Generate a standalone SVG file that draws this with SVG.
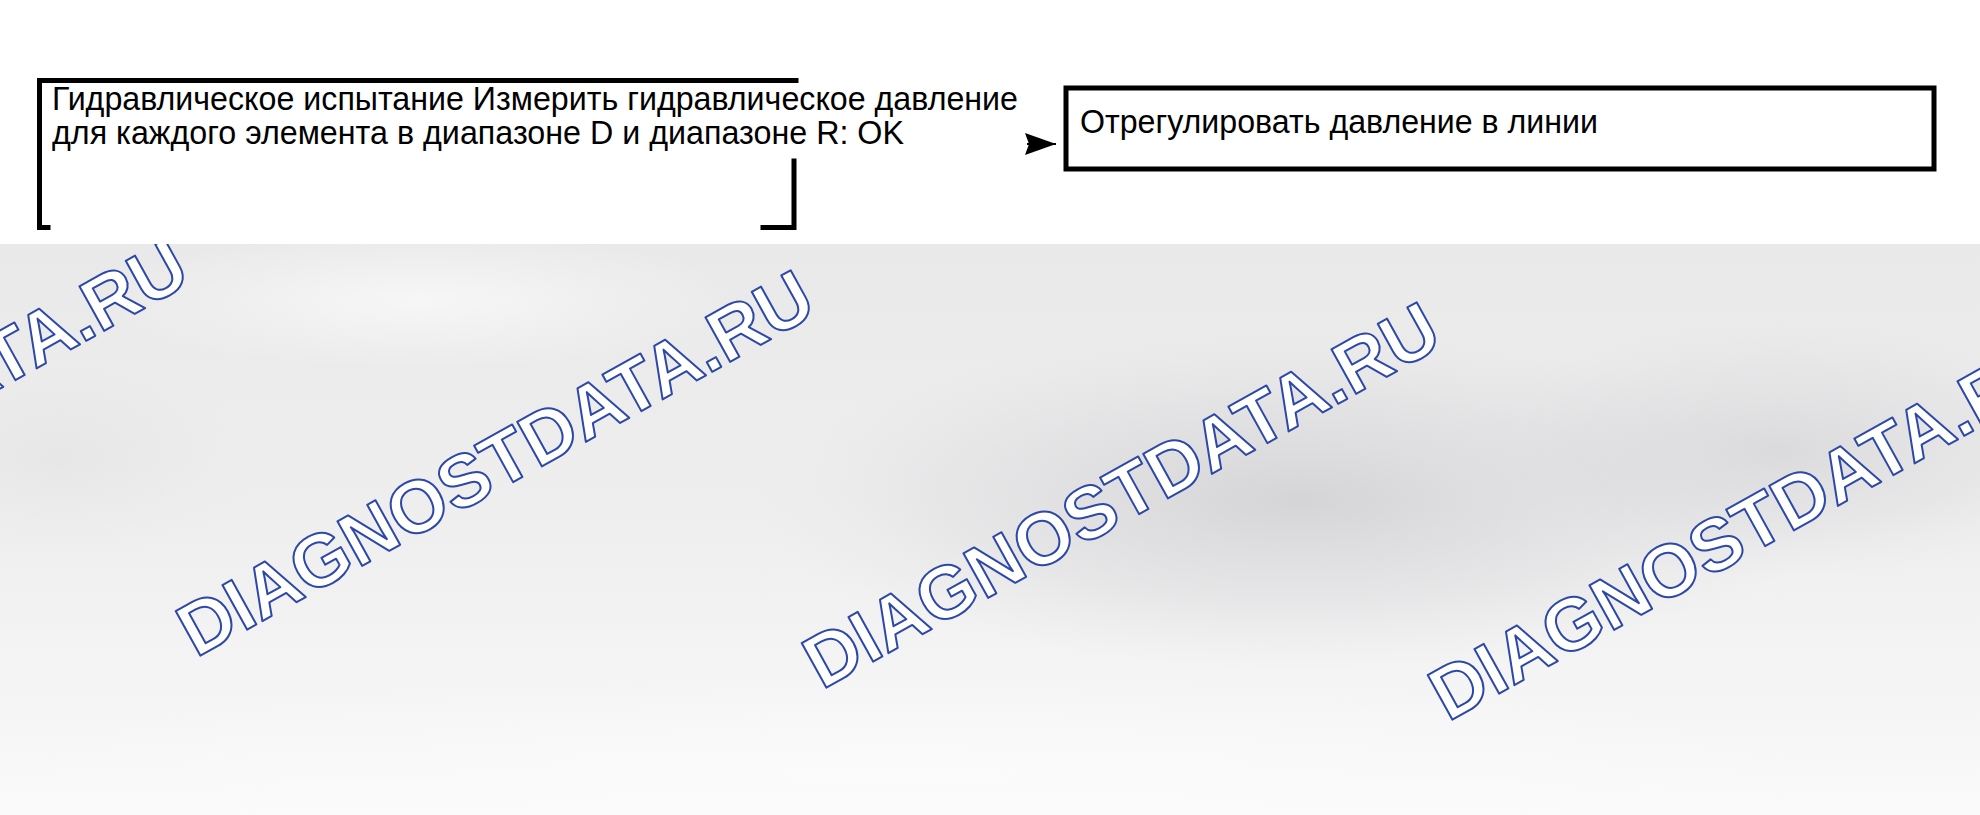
<svg xmlns="http://www.w3.org/2000/svg" width="1980" height="815" viewBox="0 0 1980 815">
  <style>
    .t { font-family: "Liberation Sans", Arial, sans-serif; font-size: 33px; fill: #000; }
    .wm { font-family: "Liberation Sans", Arial, sans-serif; font-weight: bold; font-size: 74px; fill: #ffffff; stroke: #2d48a6; stroke-width: 2; stroke-linejoin: round; }
    .frame { fill: none; stroke: #000; stroke-width: 5; stroke-linecap: square; }
    .box { fill: #fff; stroke: #000; stroke-width: 5; }
  </style>
  <defs>
    <linearGradient id="bg" x1="0" y1="0" x2="0" y2="1">
      <stop offset="0" stop-color="#e9e9ea"/>
      <stop offset="0.45" stop-color="#eeeeef"/>
      <stop offset="0.8" stop-color="#f5f5f6"/>
      <stop offset="1" stop-color="#fafafa"/>
    </linearGradient>
    <radialGradient id="dark" cx="0.5" cy="0.5" r="0.5">
      <stop offset="0" stop-color="#d0d0d2" stop-opacity="0.85"/>
      <stop offset="0.6" stop-color="#d9d9db" stop-opacity="0.45"/>
      <stop offset="1" stop-color="#e2e2e4" stop-opacity="0"/>
    </radialGradient>
    <radialGradient id="light" cx="0.5" cy="0.5" r="0.5">
      <stop offset="0" stop-color="#fbfbfb" stop-opacity="0.9"/>
      <stop offset="1" stop-color="#fbfbfb" stop-opacity="0"/>
    </radialGradient>
    <clipPath id="grayclip">
      <rect x="0" y="244" width="1980" height="571"/>
    </clipPath>
    <marker id="ah" markerUnits="userSpaceOnUse" markerWidth="32" markerHeight="22" refX="31" refY="11" orient="auto">
      <path d="M0,0 L31,11 L0,22 L4,11 Z" fill="#000"/>
    </marker>
  </defs>

  <rect x="0" y="0" width="1980" height="815" fill="#ffffff"/>

  <g id="background" clip-path="url(#grayclip)">
    <rect x="0" y="244" width="1980" height="571" fill="url(#bg)"/>
    <ellipse cx="1300" cy="500" rx="540" ry="170" fill="url(#dark)"/>
    <ellipse cx="1780" cy="450" rx="340" ry="130" fill="url(#dark)" opacity="0.75"/>
    <ellipse cx="60" cy="460" rx="200" ry="100" fill="url(#dark)" opacity="0.25"/>
    <ellipse cx="420" cy="300" rx="320" ry="70" fill="url(#light)" opacity="0.8"/>
    <ellipse cx="900" cy="770" rx="950" ry="100" fill="url(#light)" opacity="0.8"/>
    <g id="watermarks">
      <text class="wm" transform="translate(-430,627) rotate(-29)">DIAGNOSTDATA.RU</text>
      <text class="wm" transform="translate(196,658) rotate(-29)">DIAGNOSTDATA.RU</text>
      <text class="wm" transform="translate(822,690) rotate(-29)">DIAGNOSTDATA.RU</text>
      <text class="wm" transform="translate(1448,722) rotate(-29)">DIAGNOSTDATA.RU</text>
    </g>
  </g>

  <g id="node-test">
    <path class="frame" d="M796,80.5 L39.5,80.5 L39.5,227.5 L48,227.5"/>
    <path class="frame" d="M794,161 L794,227.5 L763,227.5"/>
    <text class="t" x="52" y="110" textLength="966" lengthAdjust="spacingAndGlyphs">Гидравлическое испытание Измерить гидравлическое давление</text>
    <text class="t" x="52" y="144" textLength="852" lengthAdjust="spacingAndGlyphs">для каждого элемента в диапазоне D и диапазоне R: OK</text>
  </g>

  <g id="node-adjust">
    <rect class="box" x="1066" y="88" width="868" height="81"/>
    <text class="t" x="1080" y="133" textLength="518" lengthAdjust="spacingAndGlyphs">Отрегулировать давление в линии</text>
  </g>

  <g id="connectors">
    <path d="M1027,144 L1056,144" stroke="#000" stroke-width="2" fill="none" marker-end="url(#ah)"/>
  </g>
</svg>
